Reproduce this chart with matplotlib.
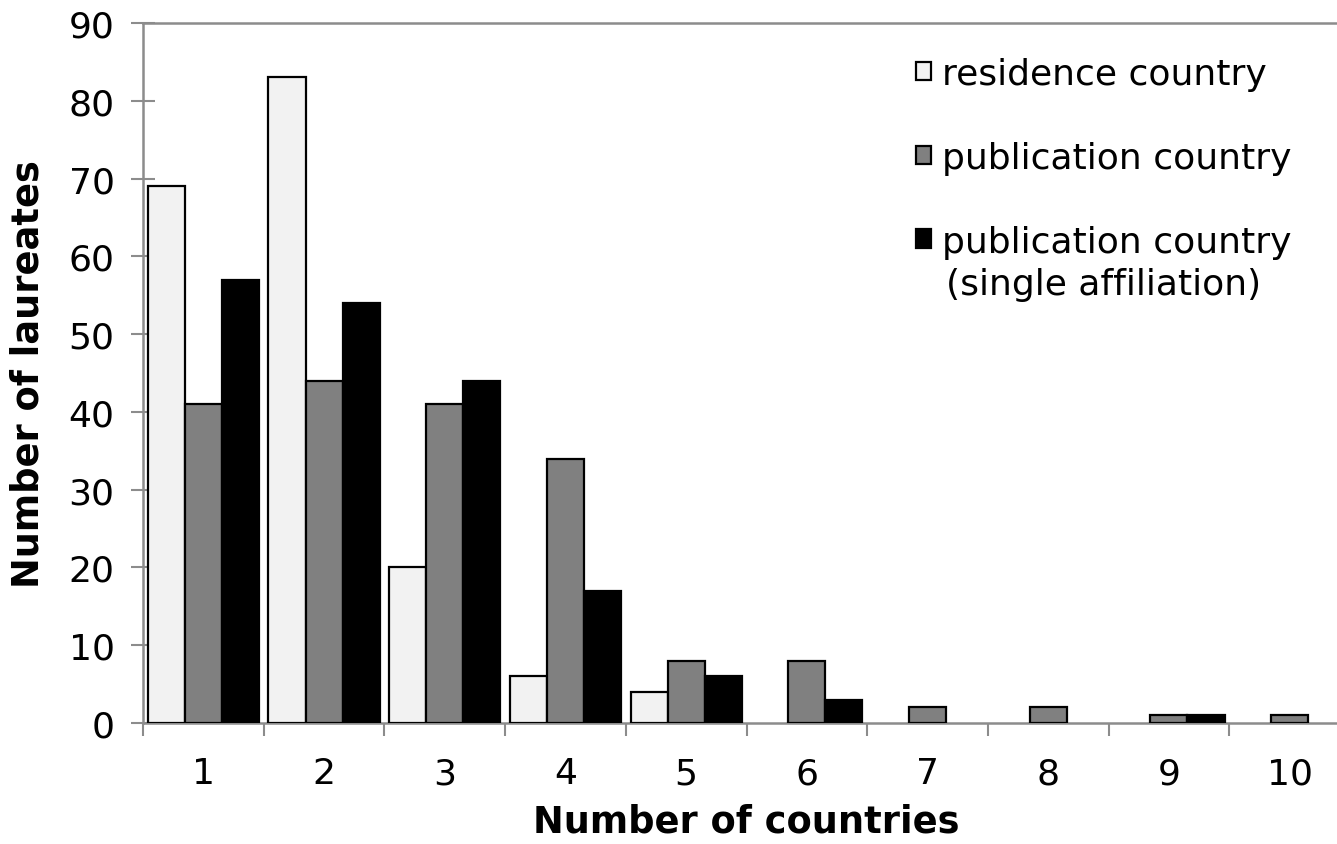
import matplotlib
matplotlib.use("Agg")
import matplotlib.pyplot as plt
import numpy as np

categories = ["1", "2", "3", "4", "5", "6", "7", "8", "9", "10"]
residence = [69, 83, 20, 6, 4, 0, 0, 0, 0, 0]
publication = [41, 44, 41, 34, 8, 8, 2, 2, 1, 1]
single_aff = [57, 54, 44, 17, 6, 3, 0, 0, 1, 0]
series_labels = ["residence country", "publication country", "publication country"]
extra_label = "(single affiliation)"
colors = ["#f2f2f2", "#808080", "#000000"]

plt.rcParams['font.family'] = ['DejaVu Sans']
fig = plt.figure(figsize=(13.37, 8.45), dpi=100)
ax = fig.add_axes([143/1337, 1-724/845, (1350-143)/1337, (724-24)/845])

x = np.arange(1, len(categories)+1)
w = 0.307
for i, (vals, lab, c) in enumerate(zip([residence, publication, single_aff], series_labels, colors)):
    vals = np.array(vals)
    mask = vals > 0
    ax.bar(x[mask] + (i-1)*w, vals[mask], width=w, color=c, edgecolor='black',
           linewidth=1.6, label=lab, zorder=3)

ax.set_xlim(0.5, 10.5)
ax.set_ylim(0, 90)
ax.set_yticks(range(0, 91, 10))
ax.set_xticks(x)
ax.set_xticklabels(categories)
ax.set_xticks(np.arange(0.5, 11, 1), minor=True)

gray = "#8c8c8c"
ax.spines['right'].set_visible(False)
for s in ['left', 'bottom', 'top']:
    ax.spines[s].set_color(gray)
    ax.spines[s].set_linewidth(1.8)

fs = 26
ax.tick_params(axis='y', direction='inout', length=17, width=1.5, color=gray,
               labelsize=fs, pad=12)
ax.tick_params(axis='x', which='major', length=0, labelsize=fs, pad=24)
ax.tick_params(axis='x', which='minor', direction='out', length=9, width=1.5, color=gray)

ax.set_xlabel("Number of countries", fontsize=26.5, fontweight='bold', labelpad=9)
ax.set_ylabel("Number of laureates", fontsize=26.5, fontweight='bold', labelpad=16)

leg = ax.legend(loc='upper left', bbox_to_anchor=(916/1337, 1-58/845),
                bbox_transform=fig.transFigure, frameon=False, fontsize=fs,
                handlelength=0.42, handleheight=0.42, handletextpad=0.3,
                labelspacing=1.38, borderpad=0, borderaxespad=0)
ax.annotate(extra_label, xy=(0, 0), xycoords=leg.get_texts()[2],
            xytext=(3, -6), textcoords='offset points', va='top', ha='left',
            fontsize=fs, zorder=10)

fig.savefig("out.png", dpi=100)
